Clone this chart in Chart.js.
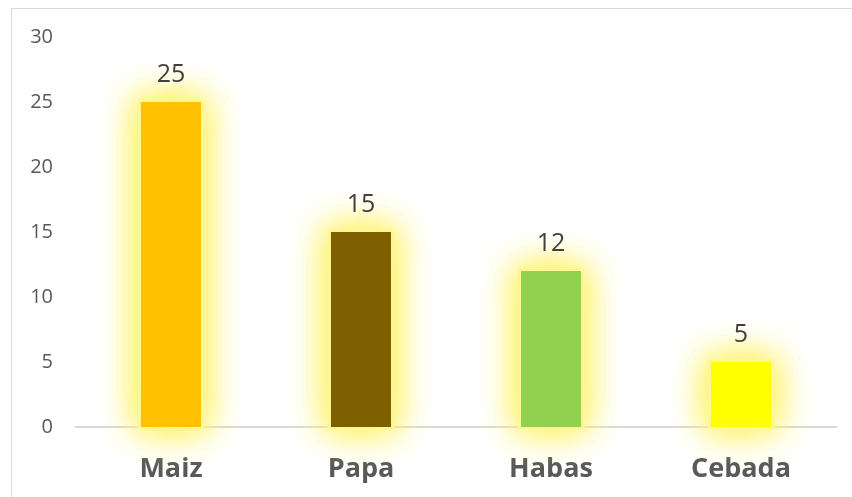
<!DOCTYPE html>
<html><head><meta charset="utf-8">
<script src="https://cdn.jsdelivr.net/npm/chart.js@4"></script>
<style>
html,body{margin:0;padding:0;background:#fff;}
#wrap{position:relative;width:852px;height:497px;}
#frame{position:absolute;left:11px;top:8px;width:850px;height:500px;border:1px solid #d9d9d9;box-sizing:border-box;pointer-events:none;}
canvas{position:absolute;left:0;top:0;}
</style></head>
<body>
<div id="wrap"><canvas id="c" width="852" height="497"></canvas><div id="frame"></div></div>
<script>
const categories = ["Maiz", "Papa", "Habas", "Cebada"];
const values = [25, 15, 12, 5];
const barColors = ["#FFC000", "#7F6000", "#92D050", "#FFFF00"];
const yTicks = [0, 5, 10, 15, 20, 25, 30];

const FONT = '"Open Sans", Lato, sans-serif';

const glowPlugin = {
  id: 'glow',
  beforeDatasetsDraw(chart) {
    const ctx = chart.ctx;
    const meta = chart.getDatasetMeta(0);
    ctx.save();
    meta.data.forEach(bar => {
      const w = bar.width;
      const x0 = bar.x - w / 2;
      const top = bar.y, bottom = bar.base;
      ctx.shadowColor = 'rgba(255,244,120,0.9)';
      ctx.shadowBlur = 34;
      ctx.fillStyle = 'rgba(255,246,150,1)';
      for (let i = 0; i < 3; i++) {
        ctx.fillRect(x0 - 3, top - 3, w + 6, bottom - top + 5);
      }
    });
    ctx.restore();
  }
};

const labelPlugin = {
  id: 'vals',
  afterDatasetsDraw(chart) {
    const ctx = chart.ctx;
    const meta = chart.getDatasetMeta(0);
    ctx.save();
    ctx.font = '25px ' + FONT;
    ctx.fillStyle = '#404040';
    ctx.textAlign = 'center';
    ctx.textBaseline = 'middle';
    meta.data.forEach((bar, i) => {
      ctx.fillText(String(values[i]), bar.x, bar.y - 27);
    });
    ctx.restore();
  }
};

new Chart(document.getElementById('c'), {
  type: 'bar',
  data: {
    labels: categories,
    datasets: [{
      data: values,
      backgroundColor: barColors,
      borderWidth: 0,
      categoryPercentage: 1,
      barPercentage: 60 / 190
    }]
  },
  options: {
    responsive: false,
    animation: false,
    devicePixelRatio: 1,
    layout: { padding: { left: 11, right: 16, top: 37, bottom: 0 } },
    plugins: { legend: { display: false }, tooltip: { enabled: false } },
    scales: {
      y: {
        min: 0, max: 30,
        afterBuildTicks(scale) { scale.ticks = yTicks.map(v => ({ value: v })); },
        afterFit(scale) { scale.width = 65; },
        grid: { display: false, drawTicks: false },
        border: { display: false },
        ticks: {
          padding: 23,
          color: '#595959',
          font: { family: FONT, size: 20 }
        }
      },
      x: {
        afterFit(scale) { scale.height = 70; },
        grid: { display: false, drawTicks: false },
        border: { display: true, color: '#d9d9d9', width: 2 },
        ticks: {
          padding: 26,
          color: '#595959',
          font: { family: FONT, size: 27, weight: 'bold' }
        }
      }
    }
  },
  plugins: [glowPlugin, labelPlugin]
});
</script>
</body></html>
